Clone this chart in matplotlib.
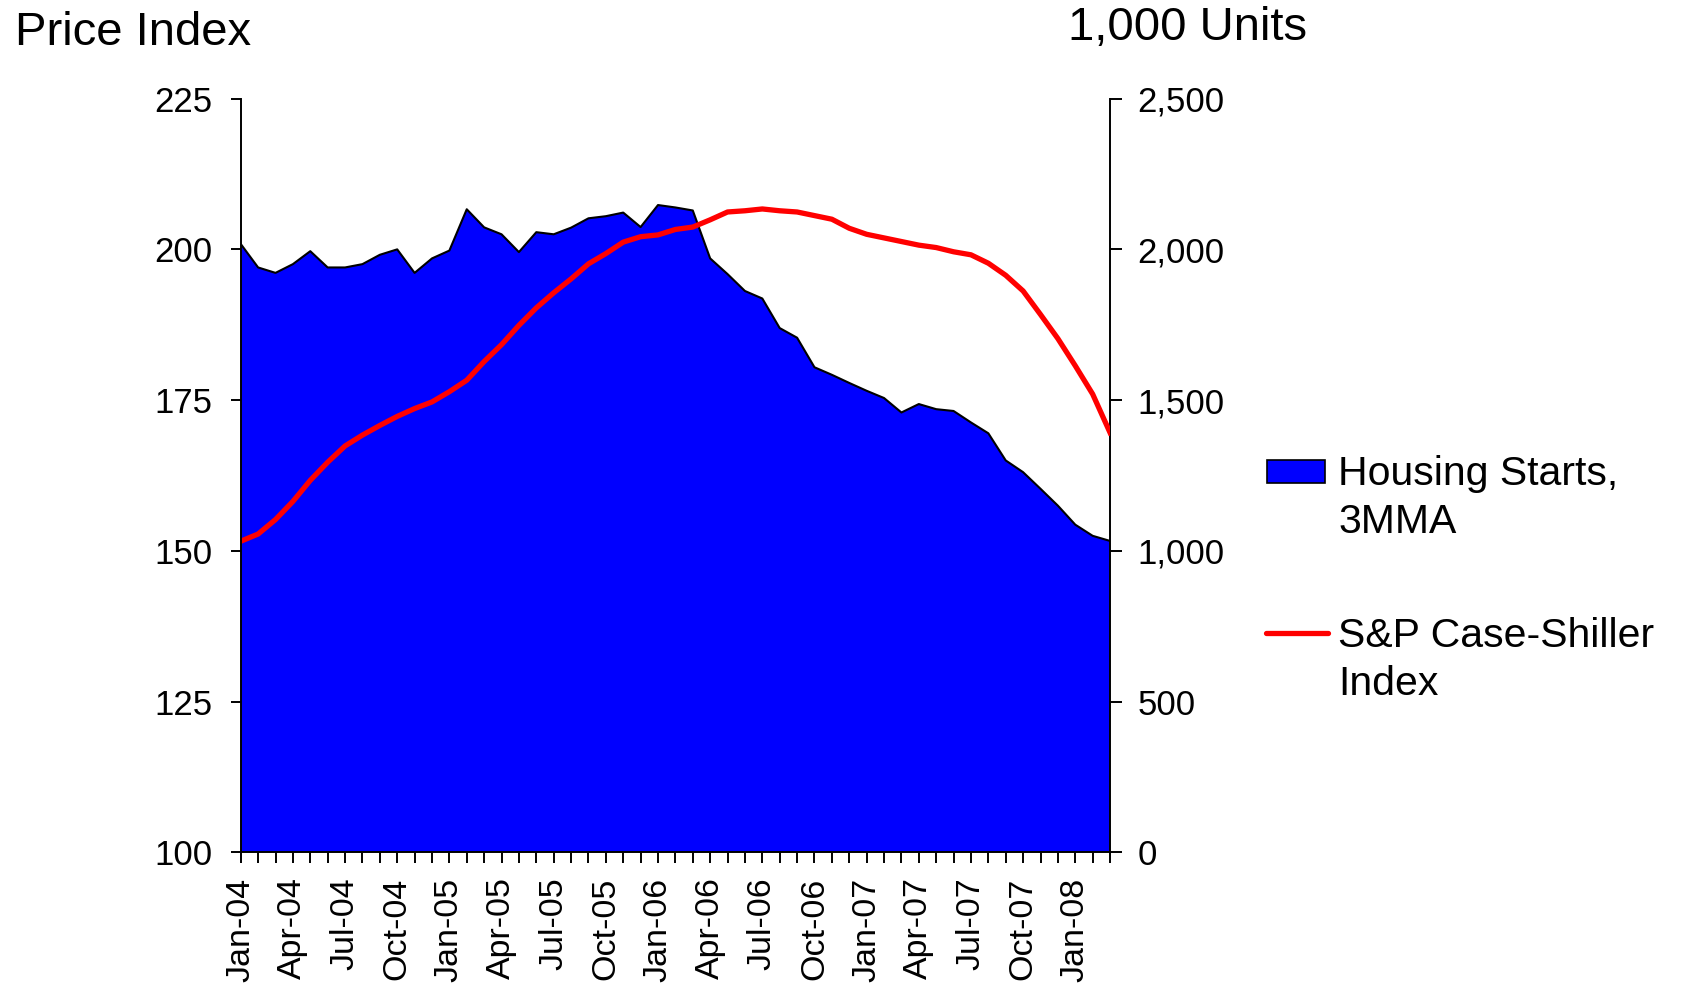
import numpy as np
import matplotlib.pyplot as plt
from matplotlib.ticker import FuncFormatter
from matplotlib.patches import Rectangle
from matplotlib.lines import Line2D

plt.rcParams['font.family'] = ['Liberation Sans', 'DejaVu Sans']

# monthly, Jan-04 .. Mar-08
months = ['Jan-04', 'Feb-04', 'Mar-04', 'Apr-04', 'May-04', 'Jun-04', 'Jul-04', 'Aug-04', 'Sep-04', 'Oct-04', 'Nov-04', 'Dec-04',
          'Jan-05', 'Feb-05', 'Mar-05', 'Apr-05', 'May-05', 'Jun-05', 'Jul-05', 'Aug-05', 'Sep-05', 'Oct-05', 'Nov-05', 'Dec-05',
          'Jan-06', 'Feb-06', 'Mar-06', 'Apr-06', 'May-06', 'Jun-06', 'Jul-06', 'Aug-06', 'Sep-06', 'Oct-06', 'Nov-06', 'Dec-06',
          'Jan-07', 'Feb-07', 'Mar-07', 'Apr-07', 'May-07', 'Jun-07', 'Jul-07', 'Aug-07', 'Sep-07', 'Oct-07', 'Nov-07', 'Dec-07',
          'Jan-08', 'Feb-08', 'Mar-08']

# housing starts, 3 month moving avg (1,000 units)
starts = [2018, 1940, 1922, 1951, 1994, 1940, 1940, 1951, 1982, 2000, 1922, 1970,
          1996, 2133, 2073, 2050, 1991, 2057, 2050, 2072, 2103, 2110, 2122, 2074,
          2147, 2139, 2129, 1970, 1918, 1862, 1837, 1739, 1707, 1609, 1584, 1557,
          1531, 1507, 1459, 1487, 1470, 1464, 1426, 1390, 1300, 1261, 1206, 1150,
          1087, 1050, 1033]

# S&P Case-Shiller index
case_shiller = [151.6, 152.8, 155.2, 158.2, 161.7, 164.7, 167.4, 169.2, 170.8, 172.3, 173.6, 174.7,
                176.4, 178.3, 181.4, 184.2, 187.4, 190.3, 192.8, 195.1, 197.6, 199.3, 201.2, 202.1,
                202.4, 203.3, 203.7, 204.9, 206.2, 206.4, 206.7, 206.4, 206.2, 205.6, 205.0, 203.5,
                202.5, 201.9, 201.3, 200.7, 200.3, 199.6, 199.1, 197.7, 195.7, 193.1, 189.2, 185.2,
                180.7, 176.0, 169.6]

x = np.arange(len(months))

W, H = 1687, 989
fig = plt.figure(figsize=(W / 100, H / 100), dpi=100)
ax = fig.add_axes([0.1427, 0.1381, 0.5153, 0.7622])
ax2 = ax.twinx()

ax2.fill_between(x, 0, starts, facecolor='#0000FF', edgecolor='none')
ax2.plot(x, starts, color='black', lw=1.5)
ax.plot(x, case_shiller, color='#FF0000', lw=3.8)

# price line above the area
ax.set_zorder(ax2.get_zorder() + 1)
ax.patch.set_visible(False)

ax.set_xlim(0, len(months) - 1)
ax.set_ylim(100, 225)
ax.set_yticks(np.arange(100, 226, 25))
ax2.set_ylim(0, 2500)
ax2.set_yticks(np.arange(0, 2501, 500))
ax2.yaxis.set_major_formatter(FuncFormatter(lambda v, p: f'{v:,.0f}'))

ax.set_xticks(x)
ax.set_xticklabels([m if i % 3 == 0 else '' for i, m in enumerate(months)], rotation=90)

for a in (ax, ax2):
    a.spines['top'].set_visible(False)
    for s in a.spines.values():
        s.set_linewidth(1.4)
ax.spines['right'].set_visible(False)
ax2.spines['left'].set_visible(False)
ax2.spines['bottom'].set_visible(False)

ax.tick_params(axis='y', labelsize=25, length=7.5, width=1.4, pad=13)
ax.tick_params(axis='x', labelsize=24.5, length=8, width=1.4, pad=10)
ax2.tick_params(axis='y', labelsize=25, length=8.5, width=1.4, pad=11)

fig.text(15 / W, 1 - 45 / H, 'Price Index', fontsize=34, va='baseline', ha='left')
fig.text(1068 / W, 1 - 40 / H, '1,000 Units', fontsize=34, va='baseline', ha='left')

# legend, drawn by hand so the keys line up with the first text line
fig.add_artist(Rectangle((1267 / W, 1 - 483 / H), 58 / W, 23 / H, transform=fig.transFigure,
                         facecolor='#0000FF', edgecolor='black', lw=1.2))
fig.add_artist(Line2D([1266 / W, 1328 / W], [1 - 633 / H, 1 - 633 / H], transform=fig.transFigure,
                      color='#FF0000', lw=3.8, solid_capstyle='round'))
leg_lines = [('Housing Starts,', 485), ('3MMA', 533), ('S&P Case-Shiller', 647), ('Index', 695)]
for txt, base in leg_lines:
    fig.text(1338 / W, 1 - base / H, txt, fontsize=29.5, va='baseline', ha='left')

fig.savefig('out.png', dpi=100)
